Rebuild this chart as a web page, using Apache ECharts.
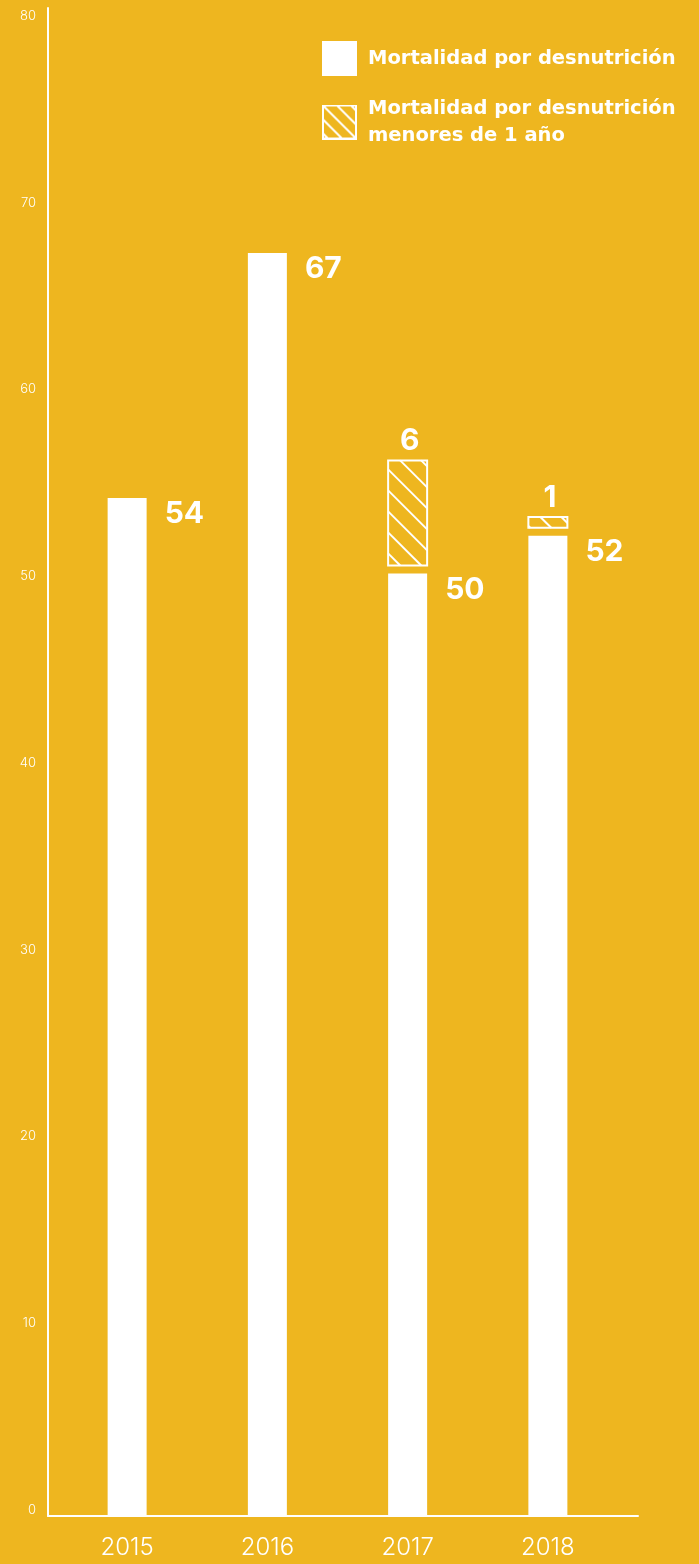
<!DOCTYPE html>
<html><head><meta charset="utf-8">
<script src="https://cdn.jsdelivr.net/npm/echarts@6/dist/echarts.min.js"></script>
<style>html,body{margin:0;padding:0;background:#EEB61F;} #c{width:699px;height:1564px;}</style>
</head><body><div id="c"></div>
<script>
const categories = ['2015', '2016', '2017', '2018'];
const totalValues = [54, 67, 50, 52];
const infantValues = [null, null, 6, 1];
const yTickLabels = ['0', '10', '20', '30', '40', '50', '60', '70', '80'];
const seriesNames = ['Mortalidad por desnutrición', 'Mortalidad por desnutrición\nmenores de 1 año'];

const BG = '#EEB61F';
const FONT = 'Inter, "Open Sans", sans-serif';
const LEGEND_FONT = '"DejaVu Sans", Inter, sans-serif';

function hatchIcon() {
  const cv = document.createElement('canvas');
  cv.width = 35; cv.height = 35;
  const ctx = cv.getContext('2d');
  ctx.strokeStyle = '#fff'; ctx.lineWidth = 2;
  ctx.save();
  ctx.beginPath(); ctx.rect(1, 1, 33, 33); ctx.clip();
  for (let c = -28; c <= 28; c += 14) {
    ctx.beginPath(); ctx.moveTo(0, c); ctx.lineTo(35, 35 + c); ctx.stroke();
  }
  ctx.restore();
  ctx.strokeRect(1, 1, 33, 33);
  return cv.toDataURL();
}

const infantData = [];
infantValues.forEach((v, i) => { if (v != null) infantData.push([i, totalValues[i], v]); });

const chart = echarts.init(document.getElementById('c'), null, {renderer: 'canvas'});
chart.setOption({
  backgroundColor: BG,
  animation: false,
  legend: {
    orient: 'vertical', left: 322, top: 41, padding: 0,
    itemWidth: 35, itemHeight: 35, itemGap: 19,
    selectedMode: false,
    textStyle: {color: '#fff', fontFamily: LEGEND_FONT, fontWeight: 700, fontSize: 19.5, lineHeight: 27, padding: [0, 0, 0, 6]},
    data: [
      {name: seriesNames[0], icon: 'rect'},
      {name: seriesNames[1], icon: 'image://' + hatchIcon()}
    ]
  },
  grid: [
    {left: 48, right: 61, top: 8, bottom: 48},
    {left: 57, right: 81, top: 8, bottom: 48},
    {left: 48, right: 61, top: 16, bottom: 54}
  ],
  xAxis: [
    {gridIndex: 0, type: 'value', min: 0, max: 1, axisLine: {show: true, onZero: false, lineStyle: {color: '#fff', width: 2}}, axisTick: {show: false}, axisLabel: {show: false}, splitLine: {show: false}},
    {gridIndex: 1, type: 'category', data: categories, axisLine: {show: false}, axisTick: {show: false},
      axisLabel: {color: '#fff', fontFamily: FONT, fontWeight: 300, fontSize: 24, margin: 20}},
    {gridIndex: 2, type: 'value', show: false}
  ],
  yAxis: [
    {gridIndex: 0, type: 'value', min: 0, max: 80, axisLine: {show: true, lineStyle: {color: '#fff', width: 2}}, axisTick: {show: false}, axisLabel: {show: false}, splitLine: {show: false}},
    {gridIndex: 1, type: 'value', min: 0, max: 80, show: false},
    {gridIndex: 2, type: 'value', min: 0, max: 80, interval: 10, axisLine: {show: false}, axisTick: {show: false}, splitLine: {show: false},
      axisLabel: {color: '#fff', fontFamily: FONT, fontWeight: 300, fontSize: 13, margin: 12,
        formatter: (v) => yTickLabels[Math.round(v / 10)]}}
  ],
  series: [
    {
      name: seriesNames[0], type: 'bar', xAxisIndex: 1, yAxisIndex: 1,
      data: totalValues, barWidth: 39,
      itemStyle: {color: '#fff'},
      label: {show: true, position: [57, 16], align: 'left', verticalAlign: 'middle',
        color: '#fff', fontFamily: FONT, fontWeight: 700, fontSize: 30}
    },
    {
      name: seriesNames[1], type: 'custom', xAxisIndex: 1, yAxisIndex: 1,
      data: infantData,
      encode: {x: 0, y: [1, 2]},
      renderItem: function (params, api) {
        const i = api.value(0), base = api.value(1), v = api.value(2);
        const top = api.coord([i, base + v]);
        const bot = api.coord([i, base]);
        const w = 39;
        const x0 = top[0] - w / 2, y0 = top[1], y1 = bot[1] - 8;
        const h = y1 - y0;
        const children = [];
        const step = 21;
        for (let c = -w + 6; c < h; c += step) {
          const xa = Math.max(0, -c), xb = Math.min(w, h - c);
          if (xb > xa) children.push({type: 'line', shape: {x1: x0 + xa, y1: y0 + xa + c, x2: x0 + xb, y2: y0 + xb + c}, style: {stroke: '#fff', lineWidth: 2}});
        }
        children.push({type: 'rect', shape: {x: x0, y: y0, width: w, height: h}, style: {fill: 'none', stroke: '#fff', lineWidth: 2}});
        children.push({type: 'text', style: {text: String(v), x: top[0] + 2, y: y0 - 19, align: 'center', verticalAlign: 'middle',
          fill: '#fff', font: '700 30px ' + FONT}});
        return {type: 'group', children: children};
      }
    }
  ]
});
</script>
</body></html>
